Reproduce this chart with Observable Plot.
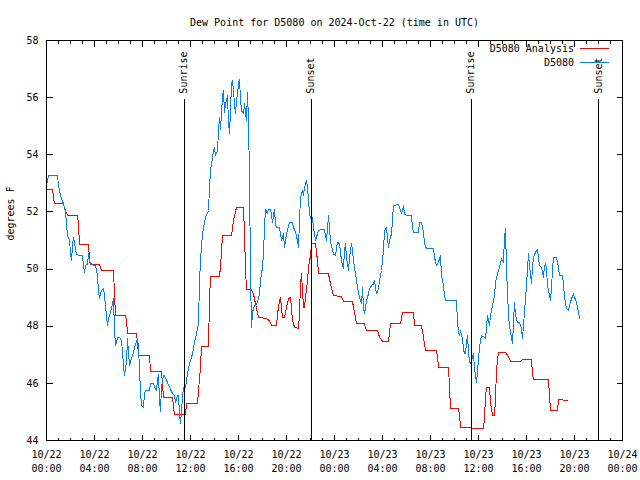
<!DOCTYPE html>
<html><head><meta charset="utf-8">
<script src="https://cdn.jsdelivr.net/npm/d3@7"></script>
<script src="https://cdn.jsdelivr.net/npm/@observablehq/plot@0.6"></script>
<style>
html,body{margin:0;padding:0;background:#fff}
</style>
</head><body><div id="chart"></div>
<script>
// ---------- data ----------
const chartTitle = "Dew Point for D5080 on 2024-Oct-22 (time in UTC)";
const yAxisLabel = "degrees F";
const seriesNames = ["D5080 Analysis", "D5080"];
const seriesColors = ["#ff0000", "#0080ff"];
const yTicks = [44, 46, 48, 50, 52, 54, 56, 58];
// minutes since 2024-10-22 00:00 UTC
const xTickMinutes = [0, 240, 480, 720, 960, 1200, 1440, 1680, 1920, 2160, 2400, 2640, 2880];
const xTickLabels = ["10/22\n00:00","10/22\n04:00","10/22\n08:00","10/22\n12:00","10/22\n16:00","10/22\n20:00",
  "10/23\n00:00","10/23\n04:00","10/23\n08:00","10/23\n12:00","10/23\n16:00","10/23\n20:00","10/24\n00:00"];
const eventMinutes = [688, 1323, 2123, 2760];
const eventLabels = ["Sunrise", "Sunset", "Sunrise", "Sunset"];

// [minute, dew point F]
const analysisSeries = [[0,52.80],[30,52.80],[35,52.51],[40,52.28],[85,52.28],[95,52.05],[105,51.87],[155,51.87],[160,51.58],[165,50.85],[210,50.85],[215,50.36],[220,50.16],[265,50.16],[275,49.95],[335,49.95],[340,49.13],[345,48.37],[395,48.37],[400,48.20],[405,47.73],[450,47.73],[455,47.43],[460,46.98],[515,46.98],[520,46.43],[575,46.43],[585,45.50],[630,45.50],[640,44.90],[695,44.90],[700,45.29],[755,45.29],[760,45.75],[770,46.57],[775,47.29],[810,47.29],[815,48.90],[820,49.73],[865,49.73],[870,50.09],[880,51.16],[925,51.16],[935,51.70],[950,52.16],[985,52.16],[990,51.23],[995,50.01],[1000,49.27],[1025,49.27],[1035,49.13],[1045,48.78],[1060,48.31],[1065,48.31],[1100,48.26],[1115,48.20],[1125,48.02],[1150,48.02],[1155,48.43],[1165,48.90],[1170,49.01],[1175,48.66],[1180,48.31],[1190,48.31],[1200,48.66],[1210,48.96],[1220,49.01],[1230,48.20],[1240,47.97],[1260,47.91],[1265,48.43],[1270,49.48],[1275,49.83],[1280,49.25],[1285,48.66],[1290,48.66],[1295,49.01],[1305,49.60],[1310,50.06],[1320,50.47],[1325,50.88],[1345,50.88],[1355,50.30],[1360,49.83],[1410,49.83],[1420,49.48],[1435,49.07],[1475,49.04],[1485,48.87],[1530,48.87],[1535,48.66],[1550,48.10],[1590,48.08],[1600,47.85],[1655,47.85],[1665,47.62],[1680,47.48],[1710,47.48],[1715,47.79],[1720,48.08],[1770,48.08],[1780,48.49],[1835,48.49],[1840,48.02],[1875,48.02],[1885,47.62],[1895,47.15],[1950,47.15],[1955,46.92],[1960,46.57],[2010,46.57],[2015,45.87],[2020,45.13],[2060,45.13],[2065,44.88],[2070,44.47],[2120,44.47],[2135,44.41],[2185,44.41],[2190,44.82],[2195,45.52],[2200,45.85],[2215,45.85],[2220,45.34],[2230,44.88],[2240,44.88],[2245,45.46],[2250,46.51],[2260,47.09],[2295,47.09],[2310,46.92],[2320,46.77],[2370,46.77],[2380,46.83],[2425,46.83],[2430,46.34],[2435,46.13],[2510,46.13],[2515,45.58],[2520,45.05],[2555,45.05],[2560,45.43],[2580,45.43],[2585,45.40],[2605,45.40]];

const observedSeries = [[0,52.90],[10,53.29],[55,53.29],[60,52.92],[70,52.57],[85,52.28],[95,51.99],[100,51.58],[105,51.17],[115,51.00],[120,50.59],[125,50.30],[130,50.82],[135,51.11],[140,50.94],[145,50.71],[150,50.50],[180,50.47],[185,50.12],[190,49.89],[195,50.12],[205,50.18],[210,50.53],[215,50.24],[230,50.15],[245,50.12],[255,49.77],[260,49.19],[265,48.98],[275,49.25],[285,49.31],[290,49.07],[300,48.37],[305,48.02],[310,48.26],[320,48.49],[330,48.78],[335,48.96],[340,47.85],[345,47.33],[350,47.44],[355,47.62],[365,47.62],[375,47.50],[380,47.09],[385,46.63],[390,46.28],[400,46.74],[405,47.56],[410,47.09],[415,46.63],[425,46.86],[435,47.09],[445,47.38],[455,47.56],[460,47.27],[470,45.69],[475,45.23],[485,45.17],[490,45.64],[495,45.75],[515,45.75],[520,46.01],[535,46.01],[540,45.87],[550,45.75],[555,46.13],[560,46.31],[565,45.40],[570,45.03],[575,45.87],[585,46.28],[590,46.28],[600,46.10],[615,45.87],[630,45.64],[640,45.58],[645,45.32],[655,45.58],[660,45.58],[665,44.94],[670,44.59],[680,45.52],[685,45.87],[695,45.87],[705,46.34],[715,46.69],[730,47.03],[740,47.44],[750,47.73],[760,48.08],[765,49.60],[775,50.88],[785,51.46],[795,51.81],[810,52.05],[815,52.86],[820,53.44],[830,53.91],[835,54.14],[840,54.26],[845,53.97],[855,54.14],[860,54.84],[865,55.31],[870,54.90],[875,55.43],[880,56.07],[885,56.24],[890,55.48],[895,55.78],[905,56.07],[910,55.13],[915,54.73],[920,55.54],[925,56.48],[930,56.59],[935,56.24],[940,55.78],[945,55.43],[950,55.89],[955,56.13],[960,56.48],[965,56.65],[970,55.95],[975,55.54],[985,55.43],[990,55.78],[1000,55.19],[1005,56.18],[1010,55.19],[1015,53.21],[1020,49.83],[1025,47.97],[1030,48.43],[1035,48.66],[1050,48.78],[1060,48.96],[1065,49.13],[1070,49.60],[1080,50.06],[1085,50.53],[1090,51.46],[1095,52.10],[1105,51.93],[1110,52.10],[1120,52.10],[1130,51.64],[1140,52.10],[1145,51.58],[1150,51.46],[1165,51.44],[1175,51.00],[1185,51.23],[1190,50.76],[1200,51.23],[1210,51.52],[1215,51.64],[1230,51.64],[1235,51.46],[1245,51.29],[1255,51.00],[1260,50.76],[1265,51.70],[1270,52.51],[1280,52.75],[1285,52.57],[1290,52.86],[1300,53.09],[1305,52.86],[1310,52.40],[1315,51.93],[1325,51.70],[1330,51.81],[1335,51.46],[1345,51.00],[1360,51.35],[1370,51.37],[1390,51.37],[1400,51.00],[1410,51.87],[1415,51.46],[1420,50.94],[1435,50.53],[1445,50.47],[1455,50.94],[1465,50.88],[1475,50.30],[1485,50.01],[1490,50.65],[1495,50.88],[1500,50.41],[1510,49.95],[1515,50.41],[1525,50.88],[1530,50.65],[1535,50.30],[1545,49.83],[1555,49.36],[1565,49.01],[1575,48.78],[1580,49.36],[1585,48.66],[1590,48.43],[1600,48.90],[1610,49.13],[1615,49.31],[1625,49.42],[1635,49.48],[1640,49.60],[1650,49.13],[1660,49.31],[1665,49.60],[1675,49.95],[1685,50.65],[1690,51.35],[1700,51.46],[1710,50.76],[1715,51.00],[1725,51.23],[1735,52.22],[1760,52.26],[1765,52.16],[1775,51.93],[1785,52.22],[1790,51.93],[1800,51.87],[1825,51.87],[1830,51.46],[1835,51.29],[1860,51.29],[1865,51.64],[1875,51.64],[1885,51.29],[1890,50.88],[1900,50.71],[1935,50.71],[1940,50.41],[1950,50.12],[1960,50.24],[1970,50.47],[1975,49.77],[1985,49.42],[1990,49.07],[1995,48.90],[2050,48.90],[2055,48.14],[2060,47.79],[2065,47.67],[2070,47.85],[2080,47.56],[2085,47.21],[2090,47.03],[2095,47.03],[2100,47.44],[2105,47.67],[2110,47.09],[2115,46.74],[2120,46.69],[2130,46.92],[2135,47.03],[2140,46.51],[2150,46.04],[2155,46.39],[2160,46.86],[2165,47.27],[2175,47.67],[2190,47.62],[2195,47.56],[2205,48.37],[2215,48.02],[2220,48.37],[2230,48.72],[2240,49.07],[2245,49.54],[2255,49.83],[2265,50.06],[2275,50.36],[2285,50.24],[2290,51.11],[2295,51.41],[2300,50.01],[2310,48.37],[2315,48.02],[2320,47.79],[2330,47.38],[2335,48.14],[2340,48.84],[2345,48.37],[2355,48.14],[2365,48.14],[2375,47.91],[2380,47.58],[2390,48.49],[2395,48.96],[2400,49.42],[2410,50.53],[2415,50.12],[2425,49.48],[2430,50.06],[2435,50.41],[2445,50.59],[2455,50.68],[2465,50.12],[2475,50.06],[2485,49.71],[2490,50.12],[2495,50.18],[2500,50.01],[2505,49.42],[2515,49.07],[2520,48.90],[2525,49.31],[2530,50.01],[2535,50.41],[2550,50.41],[2560,50.06],[2565,49.77],[2580,49.77],[2585,49.48],[2590,49.01],[2600,48.61],[2610,48.55],[2615,48.72],[2625,48.96],[2635,49.13],[2640,49.01],[2650,48.84],[2660,48.49],[2665,48.28]];

// ---------- build ----------
const analysis = analysisSeries.map(([t, v]) => ({t, v}));
const observed = observedSeries.map(([t, v]) => ({t, v}));
const events = eventMinutes.map((t, i) => ({t, label: eventLabels[i]}));
const FONT = "'DejaVu Sans Mono', 'Liberation Mono', monospace";
const eventTop = 55.93;

function frameAndTicks(index, scales, values, dims) {
  const {x, y} = scales;
  const L = dims.marginLeft + 0.5, R = dims.width - dims.marginRight + 0.5;
  const T = dims.marginTop + 0.5, B = dims.height - dims.marginBottom + 0.5;
  const g = d3.create("svg:g").attr("fill", "none").attr("stroke", "#000").attr("shape-rendering", "crispEdges");
  const p = d3.path();
  const minor = d3.range(xTickMinutes[0], xTickMinutes[xTickMinutes.length - 1] + 1, 60);
  for (const m of minor) {
    const px = Math.round(x(m)) + 0.5, len = xTickMinutes.includes(m) ? 6 : 3;
    p.moveTo(px, B); p.lineTo(px, B - len);
    p.moveTo(px, T); p.lineTo(px, T + len);
  }
  for (const v of yTicks) {
    const py = Math.round(y(v)) + 0.5;
    p.moveTo(L, py); p.lineTo(L + 6, py);
    p.moveTo(R, py); p.lineTo(R - 6, py);
  }
  g.append("path").attr("d", p.toString());
  g.append("rect").attr("x", L).attr("y", T).attr("width", R - L).attr("height", B - T);
  return g.node();
}

function legend(index, scales, values, dims) {
  const R = dims.width - dims.marginRight, T = dims.marginTop;
  const g = d3.create("svg:g").attr("font-family", FONT).attr("font-size", 10);
  seriesNames.forEach((name, i) => {
    const yy = T + 8.5 + i * 14;
    g.append("text").attr("x", R - 48).attr("y", yy).attr("dy", "0.35em")
      .attr("text-anchor", "end").attr("fill", "#000").text(name);
    g.append("line").attr("x1", R - 42).attr("x2", R - 13).attr("y1", yy).attr("y2", yy)
      .attr("stroke", seriesColors[i]).attr("stroke-width", 1).attr("shape-rendering", "crispEdges");
  });
  return g.node();
}

const chart = Plot.plot({
  width: 640,
  height: 480,
  marginLeft: 46,
  marginRight: 18,
  marginTop: 40,
  marginBottom: 40,
  style: {fontFamily: FONT, fontSize: "10px", background: "#fff", color: "#000"},
  x: {domain: [xTickMinutes[0], xTickMinutes[xTickMinutes.length - 1]], axis: null},
  y: {domain: [yTicks[0], yTicks[yTicks.length - 1]], axis: null},
  marks: [
    Plot.line(analysis, {x: "t", y: "v", stroke: seriesColors[0], strokeWidth: 1, shapeRendering: "crispEdges"}),
    Plot.line(observed, {x: "t", y: "v", stroke: seriesColors[1], strokeWidth: 1, shapeRendering: "crispEdges"}),
    Plot.ruleX(events, {x: "t", y1: yTicks[0], y2: eventTop, stroke: "#000", strokeWidth: 1, shapeRendering: "crispEdges"}),
    Plot.text(events, {x: "t", y: eventTop, text: "label", rotate: -90, textAnchor: "start", lineAnchor: "middle", dy: -6, fill: "#000", fontSize: 10}),
    frameAndTicks,
    Plot.text(yTicks, {y: d => d, text: d => String(d), frameAnchor: "left", textAnchor: "end", dx: -8, fill: "#000", fontSize: 10}),
    Plot.text(xTickMinutes, {x: d => d, text: (d, i) => xTickLabels[i], frameAnchor: "bottom", lineAnchor: "top", dy: 8, lineHeight: 1.35, fill: "#000", fontSize: 10}),
    Plot.text([chartTitle], {frameAnchor: "top", dy: -22, fill: "#000", fontSize: 10}),
    Plot.text([yAxisLabel], {frameAnchor: "left", rotate: -90, dx: -36, fill: "#000", fontSize: 10}),
    legend
  ]
});
document.getElementById("chart").appendChild(chart);
</script>
</body></html>
